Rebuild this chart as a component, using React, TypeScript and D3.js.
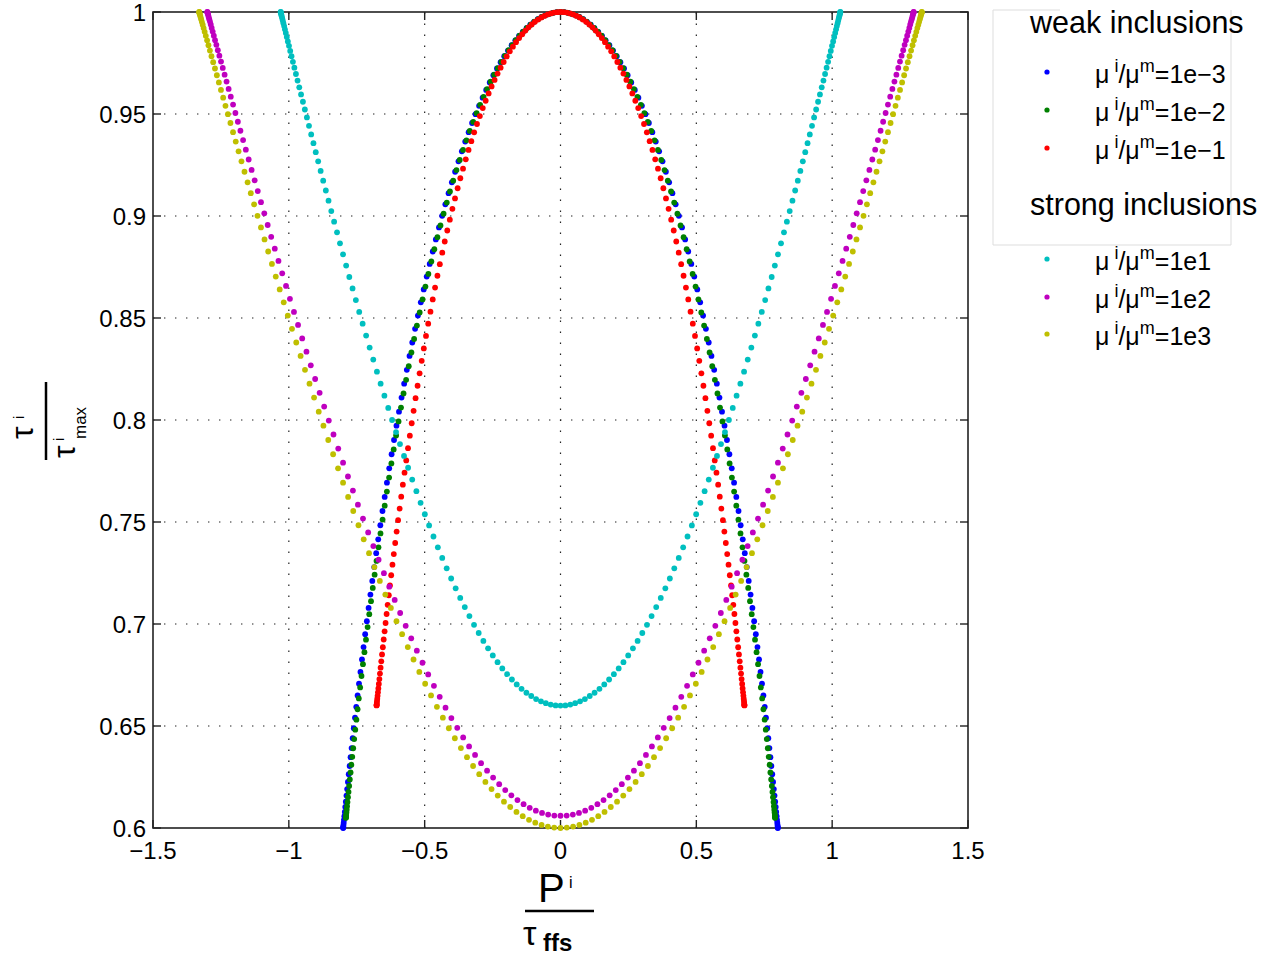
import React from "react";
import * as d3 from "d3";

// ---------- axis ticks ----------
const X_TICKS = [-1.5, -1, -0.5, 0, 0.5, 1, 1.5];
const X_TICK_LABELS = ["\u22121.5", "\u22121", "\u22120.5", "0", "0.5", "1", "1.5"];
const Y_TICKS = [0.6, 0.65, 0.7, 0.75, 0.8, 0.85, 0.9, 0.95, 1];
const Y_TICK_LABELS = ["0.6", "0.65", "0.7", "0.75", "0.8", "0.85", "0.9", "0.95", "1"];

// ---------- series (right half, P >= 0; the figure is symmetric in P) ----------
// mu_i/mu_m = 1e-3 (blue)
const blueP = [
  0, 0.014, 0.0279, 0.0419, 0.0558, 0.0697, 0.0836, 0.0975, 0.1113, 0.1251,
  0.1389, 0.1527, 0.1663, 0.18, 0.1935, 0.2071, 0.2205, 0.2339, 0.2472, 0.2605,
  0.2736, 0.2867, 0.2997, 0.3126, 0.3254, 0.3381, 0.3507, 0.3632, 0.3756, 0.3879,
  0.4, 0.412, 0.4239, 0.4357, 0.4474, 0.4589, 0.4702, 0.4815, 0.4925, 0.5035,
  0.5142, 0.5249, 0.5353, 0.5456, 0.5557, 0.5657, 0.5755, 0.5851, 0.5945, 0.6038,
  0.6128, 0.6217, 0.6304, 0.6389, 0.6472, 0.6553, 0.6632, 0.6709, 0.6784, 0.6857,
  0.6928, 0.6997, 0.7064, 0.7128, 0.719, 0.725, 0.7308, 0.7364, 0.7417, 0.7469,
  0.7518, 0.7564, 0.7609, 0.765, 0.769, 0.7727, 0.7762, 0.7795, 0.7825, 0.7853,
  0.7878, 0.7902, 0.7922, 0.794, 0.7956, 0.797, 0.798, 0.7989, 0.7995, 0.7999,
  0.8,
];
const blueTau = [
  1, 0.9999, 0.9996, 0.9991, 0.9984, 0.9976, 0.9965, 0.9952, 0.9938, 0.9921,
  0.9903, 0.9883, 0.9861, 0.9837, 0.9811, 0.9783, 0.9754, 0.9723, 0.969, 0.9655,
  0.9618, 0.958, 0.954, 0.9499, 0.9456, 0.9411, 0.9365, 0.9317, 0.9268, 0.9217,
  0.9165, 0.9112, 0.9057, 0.9001, 0.8944, 0.8885, 0.8826, 0.8765, 0.8703, 0.864,
  0.8577, 0.8512, 0.8447, 0.838, 0.8314, 0.8246, 0.8178, 0.811, 0.8041, 0.7972,
  0.7902, 0.7832, 0.7763, 0.7693, 0.7623, 0.7554, 0.7484, 0.7415, 0.7347, 0.7279,
  0.7211, 0.7144, 0.7079, 0.7014, 0.695, 0.6887, 0.6826, 0.6765, 0.6707, 0.665,
  0.6594, 0.6541, 0.6489, 0.644, 0.6392, 0.6347, 0.6304, 0.6264, 0.6226, 0.6191,
  0.6159, 0.6129, 0.6103, 0.6079, 0.6058, 0.604, 0.6026, 0.6015, 0.6007, 0.6002,
  0.6,
];

// mu_i/mu_m = 1e-2 (green)
const greenP = [
  0, 0.0138, 0.0276, 0.0413, 0.0551, 0.0689, 0.0826, 0.0963, 0.1099, 0.1236,
  0.1372, 0.1507, 0.1643, 0.1777, 0.1911, 0.2045, 0.2178, 0.231, 0.2441, 0.2572,
  0.2702, 0.2831, 0.2959, 0.3087, 0.3213, 0.3339, 0.3463, 0.3587, 0.3709, 0.383,
  0.395, 0.4069, 0.4186, 0.4303, 0.4418, 0.4531, 0.4644, 0.4754, 0.4864, 0.4972,
  0.5078, 0.5183, 0.5286, 0.5388, 0.5488, 0.5586, 0.5683, 0.5778, 0.5871, 0.5962,
  0.6052, 0.614, 0.6225, 0.6309, 0.6391, 0.6471, 0.6549, 0.6626, 0.67, 0.6772,
  0.6842, 0.691, 0.6975, 0.7039, 0.71, 0.716, 0.7217, 0.7272, 0.7325, 0.7375,
  0.7424, 0.747, 0.7513, 0.7555, 0.7594, 0.7631, 0.7665, 0.7698, 0.7727, 0.7755,
  0.778, 0.7803, 0.7823, 0.7841, 0.7857, 0.787, 0.7881, 0.7889, 0.7895, 0.7899,
  0.79,
];
const greenTau = [
  1, 0.9999, 0.9996, 0.9991, 0.9985, 0.9976, 0.9965, 0.9953, 0.9938, 0.9922,
  0.9904, 0.9884, 0.9862, 0.9838, 0.9813, 0.9785, 0.9756, 0.9725, 0.9693, 0.9658,
  0.9622, 0.9584, 0.9545, 0.9504, 0.9461, 0.9417, 0.9371, 0.9324, 0.9275, 0.9225,
  0.9173, 0.912, 0.9066, 0.9011, 0.8954, 0.8896, 0.8837, 0.8777, 0.8716, 0.8654,
  0.8591, 0.8527, 0.8463, 0.8397, 0.8331, 0.8264, 0.8197, 0.813, 0.8061, 0.7993,
  0.7924, 0.7856, 0.7787, 0.7718, 0.7649, 0.758, 0.7512, 0.7444, 0.7376, 0.7309,
  0.7242, 0.7177, 0.7112, 0.7048, 0.6985, 0.6923, 0.6862, 0.6803, 0.6745, 0.6689,
  0.6635, 0.6582, 0.6531, 0.6482, 0.6436, 0.6391, 0.6349, 0.631, 0.6272, 0.6238,
  0.6206, 0.6177, 0.6151, 0.6127, 0.6107, 0.609, 0.6076, 0.6064, 0.6056, 0.6052,
  0.605,
];

// mu_i/mu_m = 1e-1 (red)
const redP = [
  0, 0.0118, 0.0236, 0.0354, 0.0472, 0.059, 0.0708, 0.0825, 0.0942, 0.1059,
  0.1176, 0.1292, 0.1408, 0.1523, 0.1638, 0.1752, 0.1866, 0.1979, 0.2092, 0.2204,
  0.2316, 0.2426, 0.2536, 0.2645, 0.2754, 0.2861, 0.2968, 0.3074, 0.3178, 0.3282,
  0.3385, 0.3487, 0.3588, 0.3687, 0.3786, 0.3883, 0.3979, 0.4074, 0.4168, 0.4261,
  0.4352, 0.4442, 0.453, 0.4617, 0.4703, 0.4787, 0.487, 0.4951, 0.5031, 0.5109,
  0.5186, 0.5261, 0.5335, 0.5407, 0.5477, 0.5546, 0.5613, 0.5678, 0.5741, 0.5803,
  0.5863, 0.5921, 0.5978, 0.6032, 0.6085, 0.6136, 0.6185, 0.6232, 0.6277, 0.632,
  0.6362, 0.6401, 0.6439, 0.6474, 0.6508, 0.6539, 0.6569, 0.6597, 0.6622, 0.6646,
  0.6667, 0.6687, 0.6704, 0.672, 0.6733, 0.6744, 0.6754, 0.6761, 0.6766, 0.6769,
  0.677,
];
const redTau = [
  1, 0.9999, 0.9997, 0.9993, 0.9988, 0.9981, 0.9973, 0.9963, 0.9952, 0.9939,
  0.9925, 0.9909, 0.9891, 0.9872, 0.9852, 0.983, 0.9807, 0.9782, 0.9755, 0.9727,
  0.9698, 0.9667, 0.9635, 0.9601, 0.9565, 0.9529, 0.949, 0.9451, 0.941, 0.9367,
  0.9324, 0.9278, 0.9232, 0.9185, 0.9136, 0.9086, 0.9035, 0.8982, 0.8929, 0.8875,
  0.882, 0.8764, 0.8707, 0.8649, 0.8591, 0.8531, 0.8472, 0.8412, 0.8351, 0.829,
  0.8229, 0.8168, 0.8107, 0.8045, 0.7984, 0.7923, 0.7862, 0.7802, 0.7742, 0.7683,
  0.7624, 0.7566, 0.7509, 0.7453, 0.7397, 0.7343, 0.7291, 0.7239, 0.7189, 0.7141,
  0.7094, 0.7049, 0.7005, 0.6964, 0.6924, 0.6886, 0.6851, 0.6817, 0.6786, 0.6757,
  0.673, 0.6706, 0.6684, 0.6665, 0.6648, 0.6634, 0.6622, 0.6613, 0.6606, 0.6602,
  0.6601,
];

// mu_i/mu_m = 1e1 (cyan)
const cyanP = [
  0, 0.018, 0.036, 0.0539, 0.0719, 0.0898, 0.1077, 0.1255, 0.1434, 0.1611,
  0.1789, 0.1965, 0.2142, 0.2317, 0.2492, 0.2666, 0.2839, 0.3011, 0.3183, 0.3353,
  0.3523, 0.3691, 0.3859, 0.4025, 0.4189, 0.4353, 0.4515, 0.4676, 0.4836, 0.4994,
  0.515, 0.5305, 0.5458, 0.561, 0.576, 0.5908, 0.6054, 0.6199, 0.6341, 0.6482,
  0.6621, 0.6757, 0.6892, 0.7025, 0.7155, 0.7283, 0.7409, 0.7533, 0.7654, 0.7774,
  0.789, 0.8005, 0.8117, 0.8226, 0.8333, 0.8437, 0.8539, 0.8638, 0.8735, 0.8829,
  0.892, 0.9009, 0.9094, 0.9177, 0.9258, 0.9335, 0.941, 0.9481, 0.955, 0.9616,
  0.9679, 0.9739, 0.9796, 0.985, 0.9901, 0.9949, 0.9994, 1.0036, 1.0075, 1.0111,
  1.0144, 1.0173, 1.02, 1.0223, 1.0244, 1.0261, 1.0275, 1.0286, 1.0294, 1.0298,
  1.03,
];
const cyanTau = [
  0.66, 0.6601, 0.6605, 0.6612, 0.6621, 0.6632, 0.6647, 0.6663, 0.6682, 0.6704,
  0.6728, 0.6754, 0.6782, 0.6813, 0.6846, 0.6881, 0.6917, 0.6956, 0.6996, 0.7039,
  0.7083, 0.7128, 0.7175, 0.7223, 0.7273, 0.7324, 0.7376, 0.7429, 0.7483, 0.7538,
  0.7594, 0.7651, 0.7708, 0.7766, 0.7824, 0.7882, 0.7941, 0.8, 0.8059, 0.8119,
  0.8178, 0.8237, 0.8296, 0.8355, 0.8414, 0.8472, 0.853, 0.8588, 0.8645, 0.8701,
  0.8757, 0.8812, 0.8866, 0.892, 0.8972, 0.9024, 0.9075, 0.9125, 0.9173, 0.9221,
  0.9268, 0.9313, 0.9357, 0.94, 0.9442, 0.9483, 0.9522, 0.956, 0.9596, 0.9631,
  0.9664, 0.9696, 0.9727, 0.9756, 0.9783, 0.9809, 0.9834, 0.9856, 0.9877, 0.9897,
  0.9915, 0.9931, 0.9945, 0.9958, 0.9969, 0.9979, 0.9986, 0.9992, 0.9997, 0.9999,
  1,
];

// mu_i/mu_m = 1e2 (magenta)
const magentaP = [
  0, 0.0227, 0.0454, 0.068, 0.0907, 0.1133, 0.1359, 0.1584, 0.1809, 0.2034,
  0.2257, 0.2481, 0.2703, 0.2924, 0.3145, 0.3365, 0.3583, 0.3801, 0.4017, 0.4232,
  0.4446, 0.4659, 0.487, 0.508, 0.5288, 0.5494, 0.5699, 0.5902, 0.6103, 0.6303,
  0.65, 0.6696, 0.6889, 0.708, 0.727, 0.7457, 0.7641, 0.7824, 0.8004, 0.8181,
  0.8356, 0.8529, 0.8699, 0.8866, 0.9031, 0.9192, 0.9351, 0.9508, 0.9661, 0.9811,
  0.9959, 1.0103, 1.0244, 1.0382, 1.0517, 1.0649, 1.0778, 1.0903, 1.1025, 1.1143,
  1.1258, 1.137, 1.1478, 1.1583, 1.1684, 1.1782, 1.1876, 1.1967, 1.2053, 1.2137,
  1.2216, 1.2292, 1.2364, 1.2432, 1.2496, 1.2557, 1.2614, 1.2667, 1.2716, 1.2761,
  1.2803, 1.284, 1.2874, 1.2903, 1.2929, 1.2951, 1.2968, 1.2982, 1.2992, 1.2998,
  1.3,
];
const magentaTau = [
  0.606, 0.6061, 0.6066, 0.6074, 0.6085, 0.6099, 0.6117, 0.6137, 0.616, 0.6186,
  0.6215, 0.6247, 0.6281, 0.6318, 0.6358, 0.64, 0.6444, 0.6491, 0.6539, 0.659,
  0.6643, 0.6697, 0.6753, 0.681, 0.6869, 0.693, 0.6991, 0.7054, 0.7118, 0.7183,
  0.7249, 0.7315, 0.7382, 0.7449, 0.7517, 0.7585, 0.7654, 0.7723, 0.7791, 0.786,
  0.7929, 0.7997, 0.8066, 0.8133, 0.8201, 0.8268, 0.8335, 0.84, 0.8466, 0.853,
  0.8594, 0.8657, 0.8719, 0.878, 0.884, 0.8898, 0.8956, 0.9013, 0.9068, 0.9122,
  0.9175, 0.9226, 0.9277, 0.9325, 0.9372, 0.9418, 0.9462, 0.9505, 0.9546, 0.9585,
  0.9623, 0.9659, 0.9693, 0.9726, 0.9757, 0.9786, 0.9813, 0.9839, 0.9862, 0.9884,
  0.9904, 0.9922, 0.9939, 0.9953, 0.9965, 0.9976, 0.9985, 0.9991, 0.9996, 0.9999,
  1,
];

// mu_i/mu_m = 1e3 (olive yellow)
const yellowP = [
  0, 0.0232, 0.0464, 0.0696, 0.0928, 0.1159, 0.139, 0.1621, 0.1851, 0.2081,
  0.231, 0.2538, 0.2765, 0.2992, 0.3218, 0.3442, 0.3666, 0.3889, 0.411, 0.433,
  0.4549, 0.4766, 0.4982, 0.5197, 0.541, 0.5621, 0.583, 0.6038, 0.6244, 0.6448,
  0.665, 0.685, 0.7048, 0.7244, 0.7437, 0.7629, 0.7818, 0.8004, 0.8188, 0.837,
  0.8549, 0.8726, 0.8899, 0.9071, 0.9239, 0.9405, 0.9567, 0.9727, 0.9884, 1.0038,
  1.0188, 1.0336, 1.0481, 1.0622, 1.076, 1.0895, 1.1026, 1.1154, 1.1279, 1.14,
  1.1518, 1.1632, 1.1743, 1.185, 1.1954, 1.2054, 1.215, 1.2243, 1.2332, 1.2417,
  1.2498, 1.2575, 1.2649, 1.2719, 1.2785, 1.2847, 1.2905, 1.2959, 1.3009, 1.3056,
  1.3098, 1.3136, 1.3171, 1.3201, 1.3227, 1.3249, 1.3268, 1.3282, 1.3292, 1.3298,
  1.33,
];
const yellowTau = [
  0.6, 0.6002, 0.6007, 0.6015, 0.6026, 0.604, 0.6058, 0.6079, 0.6103, 0.6129,
  0.6159, 0.6191, 0.6226, 0.6264, 0.6304, 0.6347, 0.6392, 0.644, 0.6489, 0.6541,
  0.6594, 0.665, 0.6707, 0.6765, 0.6826, 0.6887, 0.695, 0.7014, 0.7079, 0.7144,
  0.7211, 0.7279, 0.7347, 0.7415, 0.7484, 0.7554, 0.7623, 0.7693, 0.7763, 0.7832,
  0.7902, 0.7972, 0.8041, 0.811, 0.8178, 0.8246, 0.8314, 0.838, 0.8447, 0.8512,
  0.8577, 0.864, 0.8703, 0.8765, 0.8826, 0.8885, 0.8944, 0.9001, 0.9057, 0.9112,
  0.9165, 0.9217, 0.9268, 0.9317, 0.9365, 0.9411, 0.9456, 0.9499, 0.954, 0.958,
  0.9618, 0.9655, 0.969, 0.9723, 0.9754, 0.9783, 0.9811, 0.9837, 0.9861, 0.9883,
  0.9903, 0.9921, 0.9938, 0.9952, 0.9965, 0.9976, 0.9984, 0.9991, 0.9996, 0.9999,
  1,
];

// ---------- legend ----------
const WEAK_TITLE = "weak inclusions";
const STRONG_TITLE = "strong inclusions";
const RATIOS = ["1e\u22123", "1e\u22122", "1e\u22121", "1e1", "1e2", "1e3"];
const COLORS = ["#0000ff", "#008000", "#ff0000", "#00bfbf", "#bf00bf", "#bfbf00"];

const SERIES = [
  { ratio: RATIOS[0], color: COLORS[0], P: blueP, tau: blueTau },
  { ratio: RATIOS[1], color: COLORS[1], P: greenP, tau: greenTau },
  { ratio: RATIOS[2], color: COLORS[2], P: redP, tau: redTau },
  { ratio: RATIOS[3], color: COLORS[3], P: cyanP, tau: cyanTau },
  { ratio: RATIOS[4], color: COLORS[4], P: magentaP, tau: magentaTau },
  { ratio: RATIOS[5], color: COLORS[5], P: yellowP, tau: yellowTau },
];

const FONT = "'Liberation Sans', Arial, Helvetica, sans-serif";

function RatioLabel({ x, y, ratio }: { x: number; y: number; ratio: string }) {
  return (
    <text x={x} y={y} fontSize={25} fontFamily={FONT} fill="#000">
      <tspan>μ</tspan>
      <tspan dx={5} dy={-11} fontSize={18}>i</tspan>
      <tspan dy={11}>/μ</tspan>
      <tspan dy={-11} fontSize={18}>m</tspan>
      <tspan dy={11}>={ratio}</tspan>
    </text>
  );
}

export default function App() {
  const W = 1276;
  const H = 958;
  const left = 153, right = 968, top = 12, bottom = 828;
  const x = d3.scaleLinear().domain([-1.5, 1.5]).range([left, right]);
  const y = d3.scaleLinear().domain([0.6, 1]).range([bottom, top]);
  const tickLen = 8;

  const dots: JSX.Element[] = [];
  SERIES.forEach((s, si) => {
    const pts: [number, number][] = [];
    for (let i = s.P.length - 1; i >= 1; i--) pts.push([-s.P[i], s.tau[i]]);
    for (let i = 0; i < s.P.length; i++) pts.push([s.P[i], s.tau[i]]);
    pts.forEach((p, k) => {
      dots.push(
        <circle key={`${si}-${k}`} cx={x(p[0])} cy={y(p[1])} r={2.9} fill={s.color} />
      );
    });
  });

  const legendRowsY = [83, 121, 159, 270, 308, 345];
  const markerX = 1047;
  const textX = 1095;

  return (
    <div style={{ position: "absolute", left: 0, top: 0, width: W, height: H, background: "#fff" }}>
      <svg width={W} height={H} style={{ display: "block" }}>
        <rect x={0} y={0} width={W} height={H} fill="#fff" />
        {/* grid */}
        <g stroke="#222" strokeWidth={1.2} strokeDasharray="1.4 9.6">
          {X_TICKS.slice(1, -1).map((t) => (
            <line key={`gx${t}`} x1={x(t)} x2={x(t)} y1={bottom} y2={top} />
          ))}
          {Y_TICKS.slice(1, -1).map((t) => (
            <line key={`gy${t}`} x1={left} x2={right} y1={y(t)} y2={y(t)} />
          ))}
        </g>
        {/* ticks */}
        <g stroke="#222" strokeWidth={1.4}>
          {X_TICKS.map((t) => (
            <g key={`tx${t}`}>
              <line x1={x(t)} x2={x(t)} y1={bottom} y2={bottom - tickLen} />
              <line x1={x(t)} x2={x(t)} y1={top} y2={top + tickLen} />
            </g>
          ))}
          {Y_TICKS.map((t) => (
            <g key={`ty${t}`}>
              <line x1={left} x2={left + tickLen} y1={y(t)} y2={y(t)} />
              <line x1={right} x2={right - tickLen} y1={y(t)} y2={y(t)} />
            </g>
          ))}
        </g>
        {/* box */}
        <rect x={left} y={top} width={right - left} height={bottom - top} fill="none" stroke="#222" strokeWidth={1.6} />
        {/* tick labels */}
        <g fontFamily={FONT} fontSize={24} fill="#000">
          {X_TICKS.map((t, i) => (
            <text key={`lx${t}`} x={x(t)} y={859} textAnchor="middle">{X_TICK_LABELS[i]}</text>
          ))}
          {Y_TICKS.map((t, i) => (
            <text key={`ly${t}`} x={left - 7} y={y(t) + 8.5} textAnchor="end">{Y_TICK_LABELS[i]}</text>
          ))}
        </g>
        {/* data */}
        <g>{dots}</g>
        {/* x label */}
        <g fontFamily={FONT} fill="#000">
          <text x={538} y={902} fontSize={40}>P</text>
          <text x={569} y={888} fontSize={16}>i</text>
          <line x1={525} x2={594} y1={911} y2={911} stroke="#000" strokeWidth={2.5} />
          <text x={523} y={945} fontSize={34}>τ</text>
          <text x={543} y={951} fontSize={24} fontWeight="bold">ffs</text>
        </g>
        {/* y label */}
        <g transform="translate(46,421) rotate(-90)" fontFamily={FONT} fill="#000">
          <line x1={-39} x2={39} y1={0} y2={0} stroke="#000" strokeWidth={2.5} />
          <text x={-18} y={-13} fontSize={32}>τ</text>
          <text x={2} y={-22} fontSize={15}>i</text>
          <text x={-37} y={29} fontSize={32}>τ</text>
          <text x={-20} y={18} fontSize={15}>i</text>
          <text x={-18} y={40} fontSize={17}>max</text>
        </g>
        {/* legend */}
        <g>
          <line x1={993} x2={993} y1={10} y2={245} stroke="#ddd" strokeWidth={1} />
          <line x1={993} x2={1231} y1={245} y2={245} stroke="#ddd" strokeWidth={1} />
          <line x1={1231} x2={1231} y1={10} y2={245} stroke="#ddd" strokeWidth={1} />
          <line x1={993} x2={1060} y1={10} y2={10} stroke="#ddd" strokeWidth={1} />
          <text x={1030} y={33} fontSize={30.5} fontFamily={FONT} fill="#000">{WEAK_TITLE}</text>
          <text x={1030} y={215} fontSize={30.5} fontFamily={FONT} fill="#000">{STRONG_TITLE}</text>
          {SERIES.map((s, i) => (
            <g key={`lg${i}`}>
              <circle cx={markerX} cy={legendRowsY[i] - 11} r={2.6} fill={s.color} />
              <RatioLabel x={textX} y={legendRowsY[i]} ratio={s.ratio} />
            </g>
          ))}
        </g>
      </svg>
    </div>
  );
}
